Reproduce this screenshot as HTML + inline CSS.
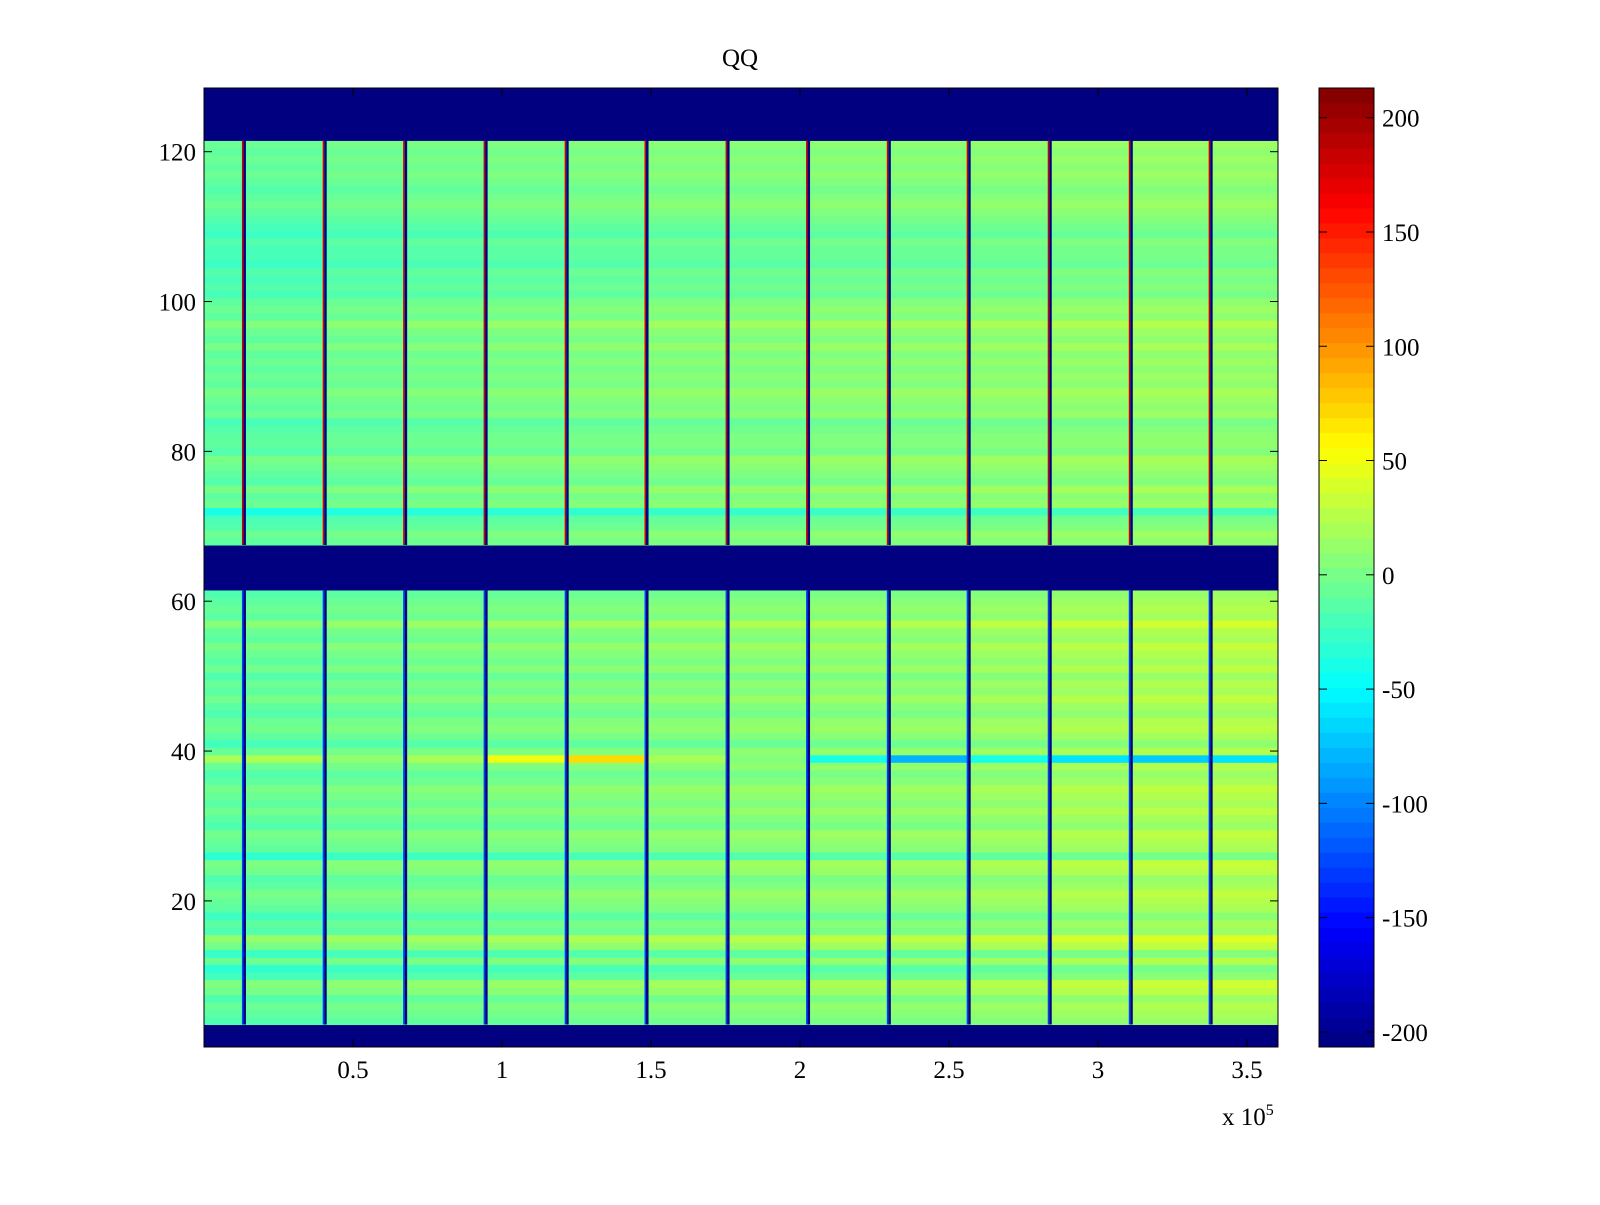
<!DOCTYPE html>
<html><head><meta charset="utf-8"><style>
html,body{margin:0;padding:0;background:#fff;}
svg text{font-family:"Liberation Serif",serif;font-size:25px;fill:#000;}
</style></head><body>
<svg id="chart" width="1600" height="1200">
<rect width="1600" height="1200" fill="#fff"/>
<g id="cells"></g>
<g id="vlines"></g>
<rect x="204" y="88" width="1074" height="959" fill="none" stroke="#000" stroke-width="1"/>
<g id="axes"></g>
<text x="740" y="66" text-anchor="middle">QQ</text>
<text x="1222" y="1125">x 10<tspan dy="-10" font-size="16">5</tspan></text>
<g id="cbar"></g>
</svg>
<script>
// ---- data ----
const rowMeans = [
-210,-210,-210,
-5,0,5,-5,10,15,-10,-20,5,-15,10,22,-5,0,-12,0,5,10,0,-5,8,12,-20,0,5,10,-5,0,8,0,5,10,0,-5,5,0,5,-10,0,8,5,-5,0,10,0,5,-5,8,0,5,12,0,5,18,0,5,0,-5,
-210,-210,-210,-210,-210,-210,
0,5,-5,-10,-30,5,0,10,-5,0,5,10,-5,0,0,-5,-10,5,0,5,10,0,5,0,5,0,10,0,5,15,0,5,0,-10,-5,-10,-5,-15,-10,-10,-5,-15,-10,-5,0,5,0,-5,0,5,0,5,0,5,
-210,-210,-210,-210,-210,-210,-210
];
const upperShift = [-10,-10,-6,-4,-2,0,2,2,4,4,6,8,10,10];
const lowerShift = [-12,-10,-6,-4,-2,0,2,4,6,6,10,15,18,20];
const row39 = [20,22,10,20,50,70,20,5,-40,-80,-40,-60,-70,-60];
const lineXs = [13400,40500,67500,94500,121700,148500,175700,202700,229800,256600,283800,311000,337800];
const xTicks = [0.5,1,1.5,2,2.5,3,3.5];
const yTicks = [20,40,60,80,100,120];
const cTicks = [200,150,100,50,0,-50,-100,-150,-200];
const segEdges = [0,13400,40500,67500,94500,121700,148500,175700,202700,229800,256600,283800,311000,337800,360400];
// ---- scales ----
const X0=204,X1=1278,Y0=88,Y1=1047;
const xMax=360400;
const sx=v=>X0+v/xMax*(X1-X0);
const sy=v=>Y1-(v-0.5)/128*(Y1-Y0);
const cMin=-206.6,cMax=213;
const cy=v=>Y1-(v-cMin)/(cMax-cMin)*(Y1-Y0);
function jet(v){let t=(v-cMin)/(cMax-cMin);t=Math.max(0,Math.min(1,t));
 const f=x=>Math.max(0,Math.min(1,x));
 const r=f(Math.min(4*t-1.5,-4*t+4.5)),g=f(Math.min(4*t-0.5,-4*t+3.5)),b=f(Math.min(4*t+0.5,-4*t+2.5));
 return `rgb(${Math.round(r*255)},${Math.round(g*255)},${Math.round(b*255)})`;}
const NS="http://www.w3.org/2000/svg";
function mk(tag,attrs,parent){const e=document.createElementNS(NS,tag);for(const k in attrs)e.setAttribute(k,attrs[k]);parent.appendChild(e);return e;}
// cells
const cells=document.getElementById('cells');
for(let r=0;r<128;r++){
 const row=r+1;
 for(let b=0;b<segEdges.length-1;b++){
  let v=rowMeans[r];
  if(v>-200){v+= row>=62?upperShift[b]:lowerShift[b]; if(row===39)v=row39[b];}
  const y=sy(row+0.5),h=sy(row-0.5)-y;
  const x=sx(segEdges[b]),w=sx(segEdges[b+1])-x;
  const c=mk('rect',{x:x,y:y,width:w+0.5,height:h+0.5,fill:jet(v)},cells);
  
  
 }
}
// vertical stripes
const vl=document.getElementById('vlines');
lineXs.forEach(lx=>{
 const x=sx(lx);
 [[68,121,'#d00000'],[4,61,'#0040ff']].forEach(([a,b,edge])=>{
  const y=sy(b+0.5),h=sy(a-0.5)-y;
  const e1=mk('rect',{x:x-2,y:y,width:1.5,height:h,fill:edge},vl);
  
  
  const e2=mk('rect',{x:x-0.5,y:y,width:2.5,height:h,fill:'#000080'},vl);
  
  
 });
});
// axes ticks
const ax=document.getElementById('axes');
xTicks.forEach(t=>{const x=sx(t*1e5);
 mk('line',{x1:x,x2:x,y1:Y1,y2:Y1-8,stroke:'#000'},ax);
 mk('line',{x1:x,x2:x,y1:Y0,y2:Y0+8,stroke:'#000'},ax);
 const l=mk('text',{x:x,y:1078,'text-anchor':'middle'},ax);l.textContent=t;
 
 
});
yTicks.forEach(t=>{const y=sy(t);
 mk('line',{x1:X0,x2:X0+8,y1:y,y2:y,stroke:'#000'},ax);
 mk('line',{x1:X1,x2:X1-8,y1:y,y2:y,stroke:'#000'},ax);
 const l=mk('text',{x:196,y:y+9,'text-anchor':'end'},ax);l.textContent=t;
 
 
});
// colorbar
const cb=document.getElementById('cbar');
const N=64;
for(let i=0;i<N;i++){const v0=cMin+(cMax-cMin)*i/N,v1=cMin+(cMax-cMin)*(i+1)/N;
 const r=mk('rect',{x:1319,y:cy(v1),width:55,height:cy(v0)-cy(v1)+0.5,fill:jet((v0+v1)/2)},cb);
 
 
}
mk('rect',{x:1319,y:Y0,width:55,height:Y1-Y0,fill:'none',stroke:'#000'},cb);
cTicks.forEach(t=>{const y=cy(t);
 mk('line',{x1:1374,x2:1366,y1:y,y2:y,stroke:'#000'},cb);
 mk('line',{x1:1319,x2:1327,y1:y,y2:y,stroke:'#000'},cb);
 const l=mk('text',{x:1382,y:y+9},cb);l.textContent=t;
 
 
});
</script>
</body></html>
